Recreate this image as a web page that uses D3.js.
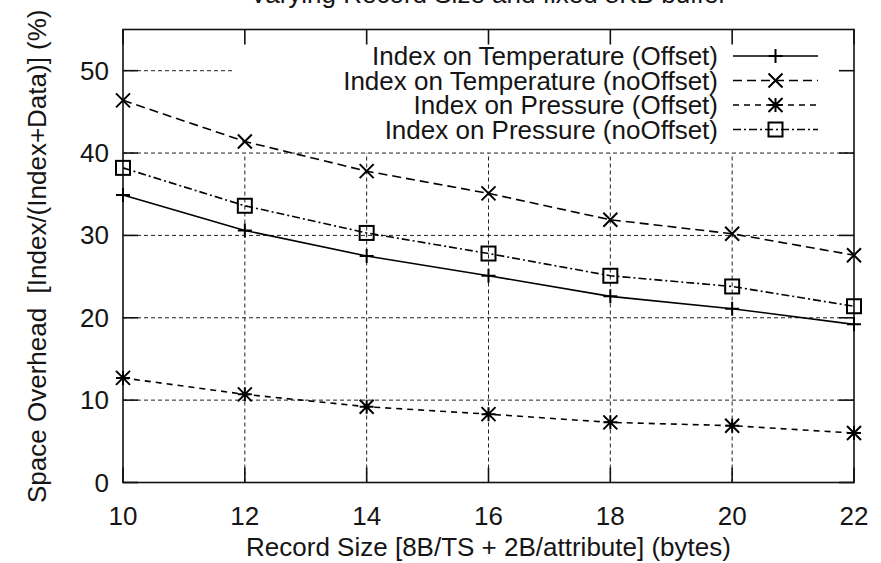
<!DOCTYPE html>
<html>
<head>
<meta charset="utf-8">
<script src="https://cdn.jsdelivr.net/npm/d3@7"></script>
<style>
  html, body { margin: 0; padding: 0; background: #fff; }
  svg { display: block; font-family: "Liberation Sans", Arial, Helvetica, sans-serif; }
  text { fill: #151515; }
</style>
</head>
<body>
<svg id="chart" width="881" height="563"></svg>
<script>
// Record sizes (bytes) on the x axis
const recordSizes = [10, 12, 14, 16, 18, 20, 22];

// Space overhead (%) for each index variant
const tempOffset    = [34.9, 30.6, 27.5, 25.1, 22.6, 21.1, 19.2];
const tempNoOffset  = [46.4, 41.4, 37.8, 35.1, 31.9, 30.2, 27.6];
const pressOffset   = [12.7, 10.7, 9.2, 8.3, 7.3, 6.9, 6.0];
const pressNoOffset = [38.2, 33.6, 30.3, 27.8, 25.1, 23.8, 21.4];

const seriesNames = [
  "Index on Temperature (Offset)",
  "Index on Temperature (noOffset)",
  "Index on Pressure (Offset)",
  "Index on Pressure (noOffset)"
];

const xTicks = [10, 12, 14, 16, 18, 20, 22];
const yTicks = [0, 10, 20, 30, 40, 50];

const chartTitle = "Varying Record Size and fixed 8KB buffer";
const xTitle = "Record Size [8B/TS + 2B/attribute] (bytes)";
const yTitle = "Space Overhead  [Index/(Index+Data)] (%)";

const svg = d3.select("#chart");
const plot = { left: 123, right: 854, top: 29.5, bottom: 482.5 };
const fontSize = 26;

const x = d3.scaleLinear().domain([10, 22]).range([plot.left, plot.right]);
const y = d3.scaleLinear().domain([0, 55]).range([plot.bottom, plot.top]);

const styles = [
  { dash: null,        marker: "plus"   },
  { dash: "9,5",       marker: "cross"  },
  { dash: "6,5",       marker: "star"   },
  { dash: "8,3,2,3",   marker: "square" }
];
const seriesValues = [tempOffset, tempNoOffset, pressOffset, pressNoOffset];

// Key box region; grid lines are not drawn inside it
const keyBox = { x0: 233, x1: plot.right, y0: plot.top, y1: 150 };

// Grid
const grid = svg.append("g").attr("stroke", "#222").attr("stroke-width", 1)
  .attr("stroke-dasharray", "4,3").attr("fill", "none");
yTicks.filter(t => t > 0).forEach(t => {
  const yy = y(t);
  const inKey = yy >= keyBox.y0 && yy <= keyBox.y1;
  grid.append("line")
    .attr("x1", plot.left).attr("x2", inKey ? keyBox.x0 : plot.right)
    .attr("y1", yy).attr("y2", yy);
});
xTicks.filter(t => t > 10 && t < 22).forEach(t => {
  const xx = x(t);
  const inKey = xx >= keyBox.x0 && xx <= keyBox.x1;
  grid.append("line")
    .attr("x1", xx).attr("x2", xx)
    .attr("y1", plot.bottom).attr("y2", inKey ? keyBox.y1 + 3 : plot.top);
});

// Border and inward ticks
const axes = svg.append("g").attr("stroke", "#111").attr("stroke-width", 1.6).attr("fill", "none");
axes.append("rect")
  .attr("x", plot.left).attr("y", plot.top)
  .attr("width", plot.right - plot.left).attr("height", plot.bottom - plot.top);
const tickLen = 15;
xTicks.forEach(t => {
  axes.append("line").attr("x1", x(t)).attr("x2", x(t)).attr("y1", plot.bottom).attr("y2", plot.bottom - tickLen);
  axes.append("line").attr("x1", x(t)).attr("x2", x(t)).attr("y1", plot.top).attr("y2", plot.top + tickLen);
});
yTicks.forEach(t => {
  axes.append("line").attr("x1", plot.left).attr("x2", plot.left + tickLen).attr("y1", y(t)).attr("y2", y(t));
  axes.append("line").attr("x1", plot.right).attr("x2", plot.right - tickLen).attr("y1", y(t)).attr("y2", y(t));
});

// Tick labels
svg.append("g").selectAll("text").data(xTicks).join("text")
  .attr("x", d => x(d)).attr("y", 525)
  .attr("text-anchor", "middle").attr("font-size", fontSize)
  .text(d => d);
svg.append("g").selectAll("text").data(yTicks).join("text")
  .attr("x", 109).attr("y", d => y(d) + 9)
  .attr("text-anchor", "end").attr("font-size", fontSize)
  .text(d => d);

// Titles
svg.append("text").attr("x", (plot.left + plot.right) / 2).attr("y", 3)
  .attr("text-anchor", "middle").attr("font-size", fontSize).text(chartTitle);
svg.append("text").attr("x", (plot.left + plot.right) / 2).attr("y", 556)
  .attr("text-anchor", "middle").attr("font-size", fontSize).text(xTitle);
svg.append("text")
  .attr("transform", "translate(46,503) rotate(-90)")
  .attr("text-anchor", "start").attr("font-size", fontSize)
  .style("white-space", "pre")
  .text(yTitle);

// Marker drawing
function drawMarker(g, kind, cx, cy) {
  const s = 7;
  if (kind === "plus") {
    g.append("path").attr("d", `M${cx - s},${cy}H${cx + s}M${cx},${cy - s}V${cy + s}`);
  } else if (kind === "cross") {
    g.append("path").attr("d", `M${cx - s},${cy - s}L${cx + s},${cy + s}M${cx - s},${cy + s}L${cx + s},${cy - s}`);
  } else if (kind === "star") {
    g.append("path").attr("d",
      `M${cx - s},${cy - s}L${cx + s},${cy + s}M${cx - s},${cy + s}L${cx + s},${cy - s}` +
      `M${cx - s},${cy}H${cx + s}M${cx},${cy - s}V${cy + s}`);
  } else if (kind === "square") {
    g.append("rect").attr("x", cx - s).attr("y", cy - s).attr("width", 2 * s).attr("height", 2 * s)
      .attr("fill", "none");
  }
}

// Series lines and markers
const line = d3.line().x(d => x(d[0])).y(d => y(d[1]));
seriesValues.forEach((vals, i) => {
  const pts = recordSizes.map((r, j) => [r, vals[j]]);
  const g = svg.append("g").attr("stroke", "#000").attr("stroke-width", 1.6).attr("fill", "none");
  g.append("path").attr("d", line(pts)).attr("stroke-dasharray", styles[i].dash);
  const mg = svg.append("g").attr("stroke", "#000").attr("stroke-width", 2).attr("fill", "none");
  pts.forEach(p => drawMarker(mg, styles[i].marker, x(p[0]), y(p[1])));
});

// Key
const keyRows = [56, 80.5, 105, 129.5];
seriesNames.forEach((name, i) => {
  const ry = keyRows[i];
  svg.append("text").attr("x", 718).attr("y", ry + 9)
    .attr("text-anchor", "end").attr("font-size", fontSize).text(name);
  const g = svg.append("g").attr("stroke", "#000").attr("stroke-width", 1.6).attr("fill", "none");
  g.append("line").attr("x1", 733).attr("x2", 818).attr("y1", ry).attr("y2", ry)
    .attr("stroke-dasharray", styles[i].dash);
  const mg = svg.append("g").attr("stroke", "#000").attr("stroke-width", 2).attr("fill", "none");
  drawMarker(mg, styles[i].marker, 775.5, ry);
});
</script>
</body>
</html>
